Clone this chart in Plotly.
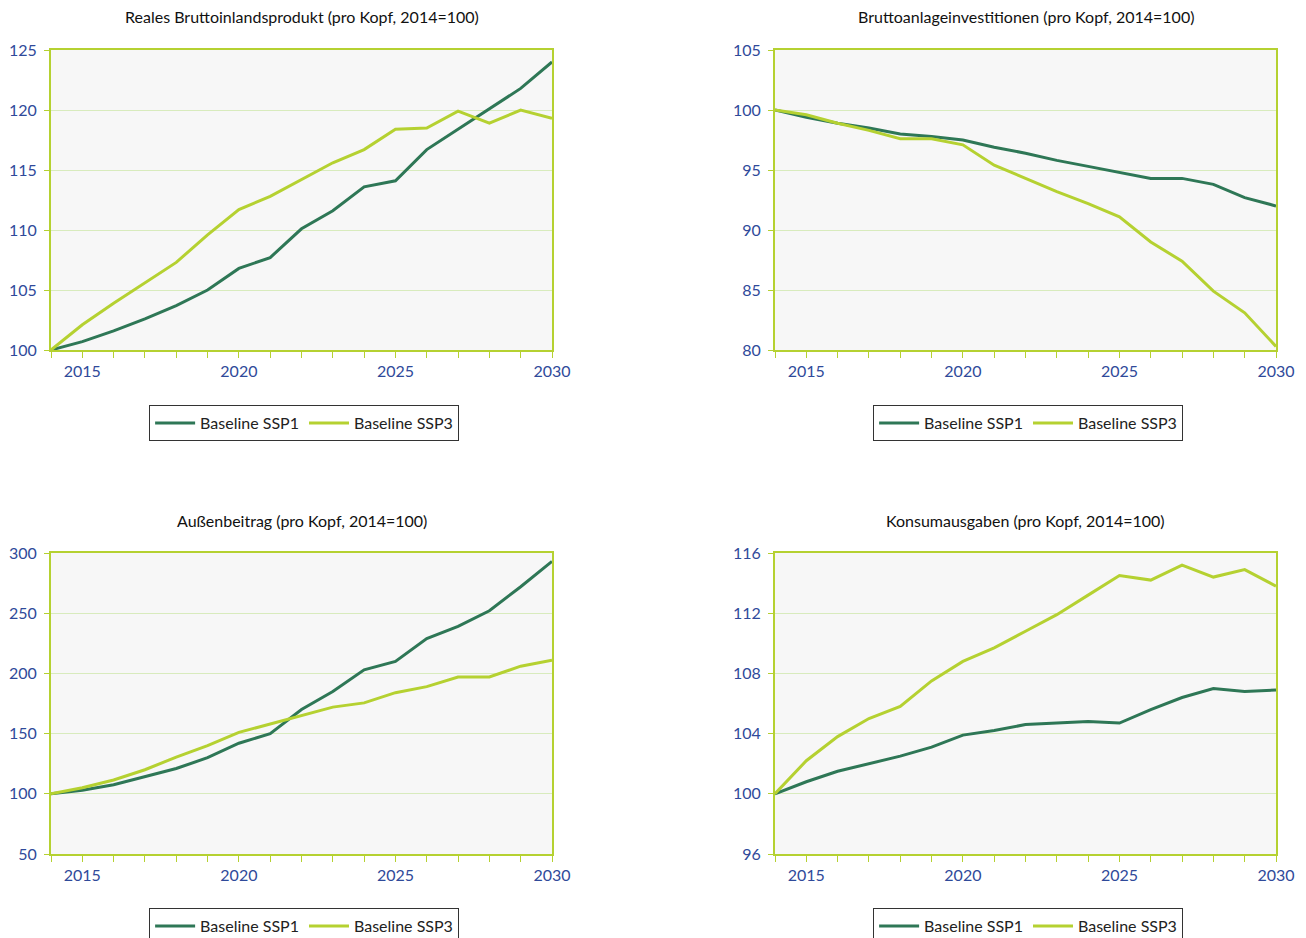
import plotly.graph_objects as go

years = list(range(2014, 2031))

titles = [
    "Reales Bruttoinlandsprodukt (pro Kopf, 2014=100)",
    "Bruttoanlageinvestitionen (pro Kopf, 2014=100)",
    "Außenbeitrag (pro Kopf, 2014=100)",
    "Konsumausgaben (pro Kopf, 2014=100)",
]
series_names = ["Baseline SSP1", "Baseline SSP3"]

bip_ssp1 = [100, 100.7, 101.6, 102.6, 103.7, 105.0, 106.8, 107.7, 110.1, 111.6, 113.6, 114.1, 116.7, 118.4, 120.1, 121.8, 124.0]
bip_ssp3 = [100, 102.1, 103.9, 105.6, 107.3, 109.6, 111.7, 112.8, 114.2, 115.6, 116.7, 118.4, 118.5, 119.9, 118.9, 120.0, 119.3]

inv_ssp1 = [100, 99.4, 98.9, 98.5, 98.0, 97.8, 97.5, 96.9, 96.4, 95.8, 95.3, 94.8, 94.3, 94.3, 93.8, 92.7, 92.0]
inv_ssp3 = [100, 99.6, 98.9, 98.3, 97.6, 97.6, 97.1, 95.4, 94.3, 93.2, 92.2, 91.1, 89.0, 87.4, 84.9, 83.1, 80.3]

aus_ssp1 = [100, 103, 107.5, 114, 121, 130, 142, 150, 170, 185, 203, 210, 229, 239, 252, 272, 293]
aus_ssp3 = [100, 105, 111.5, 120, 130.5, 140, 151, 158, 165, 172, 175.5, 184, 189, 197, 197, 206, 211]

kon_ssp1 = [100, 100.8, 101.5, 102.0, 102.5, 103.1, 103.9, 104.2, 104.6, 104.7, 104.8, 104.7, 105.6, 106.4, 107.0, 106.8, 106.9]
kon_ssp3 = [100, 102.2, 103.8, 105.0, 105.8, 107.5, 108.8, 109.7, 110.8, 111.9, 113.2, 114.5, 114.2, 115.2, 114.4, 114.9, 113.8]

y_ranges = [(100, 125, 5), (80, 105, 5), (50, 300, 50), (96, 116, 4)]
data = [(bip_ssp1, bip_ssp3), (inv_ssp1, inv_ssp3), (aus_ssp1, aus_ssp3), (kon_ssp1, kon_ssp3)]

W, H = 1306, 938
DARK = "#2e7756"
LIME = "#b5d131"
GRID = "#d8ebbd"
TICKBLUE = "#2f4a9a"
FONT = "Lato, 'Open Sans', sans-serif"

# panel pixel boxes: (left, right, top, bottom)
boxes = [(51, 552, 50, 350), (775, 1276, 50, 350), (51, 552, 553, 854), (775, 1276, 553, 854)]
legend_y_px = [423, 423, 926, 926]
title_y_px = [17, 17, 520, 520]

fig = go.Figure()
layout = dict(
    width=W, height=H,
    margin=dict(l=0, r=0, t=0, b=0, autoexpand=False),
    paper_bgcolor="white",
    plot_bgcolor="#f7f7f7",
    font=dict(family=FONT, size=16, color="#222222"),
    annotations=[],
)

tickvals = years
ticktext = [str(y) if y % 5 == 0 else "" for y in years]

for i in range(4):
    l, r, t, b = boxes[i]
    xa = "xaxis" if i == 0 else f"xaxis{i+1}"
    ya = "yaxis" if i == 0 else f"yaxis{i+1}"
    xref = "x" if i == 0 else f"x{i+1}"
    yref = "y" if i == 0 else f"y{i+1}"
    leg = "legend" if i == 0 else f"legend{i+1}"
    s1, s3 = data[i]
    for name, vals, col in [(series_names[0], s1, DARK), (series_names[1], s3, LIME)]:
        fig.add_trace(go.Scatter(
            x=years, y=vals, mode="lines", name=name,
            line=dict(color=col, width=3),
            xaxis=xref, yaxis=yref, legend=leg, showlegend=True,
        ))
    layout[xa] = dict(
        domain=[l / W, r / W], anchor=yref, range=[2014, 2030],
        tickvals=tickvals, ticktext=ticktext, ticks="outside", ticklen=6,
        tickcolor=LIME, tickwidth=1, showgrid=False, zeroline=False,
        showline=True, linecolor=LIME, linewidth=2, mirror=True,
        tickfont=dict(family=FONT, size=16, color=TICKBLUE),
        automargin=False, fixedrange=True,
    )
    y0, y1, dt = y_ranges[i]
    layout[ya] = dict(
        domain=[1 - b / H, 1 - t / H], anchor=xref, range=[y0, y1], dtick=dt,
        tick0=y0, ticks="outside", ticklen=5, tickcolor=LIME, tickwidth=1,
        showgrid=True, gridcolor=GRID, gridwidth=1, zeroline=False,
        showline=True, linecolor=LIME, linewidth=2, mirror=True,
        tickfont=dict(family=FONT, size=16, color=TICKBLUE),
        ticklabelstandoff=4,
        automargin=False, fixedrange=True,
    )
    layout[leg] = dict(
        x=(l + r) / 2 / W + 0.002, xanchor="center",
        y=1 - legend_y_px[i] / H, yanchor="middle",
        orientation="h", bgcolor="white", bordercolor="#333333", borderwidth=1,
        font=dict(family=FONT, size=16, color="#222222"),
        itemwidth=40,
    )
    layout["annotations"].append(dict(
        text=titles[i], x=(l + r) / 2 / W, y=1 - title_y_px[i] / H,
        xref="paper", yref="paper", showarrow=False,
        xanchor="center", yanchor="middle",
        font=dict(family=FONT, size=16, color="#111111"),
    ))

fig.update_layout(**layout)
fig.write_html(
    "out.html",
    config={"displayModeBar": False},
    post_script="document.body.style.margin='0';document.body.style.overflow='hidden';",
)
